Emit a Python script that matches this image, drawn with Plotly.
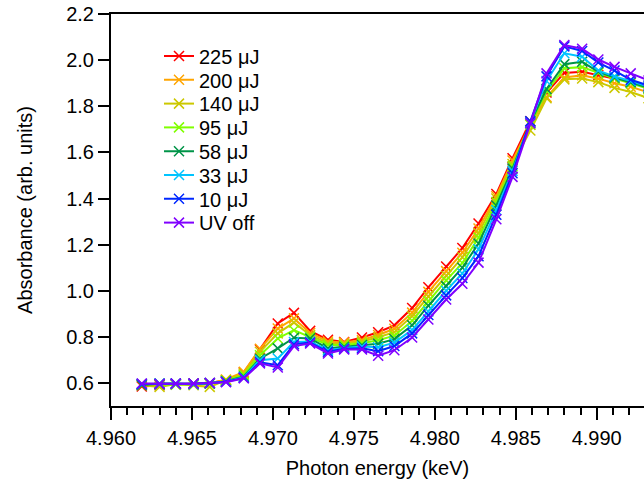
import plotly.graph_objects as go

energy = [4.9619, 4.9630, 4.9640, 4.9651, 4.9661, 4.9671, 4.9682, 4.9692, 4.9703, 4.9713,
          4.9723, 4.9734, 4.9744, 4.9755, 4.9765, 4.9775, 4.9786, 4.9796, 4.9807, 4.9817,
          4.9827, 4.9838, 4.9848, 4.9859, 4.9869, 4.9880, 4.9891, 4.9901, 4.9911, 4.9921, 4.9932]

uj225 = [0.585, 0.590, 0.593, 0.598, 0.600, 0.612, 0.645, 0.745, 0.858, 0.904, 0.826, 0.787, 0.778, 0.797, 0.820, 0.850,
         0.925, 1.015, 1.105, 1.185, 1.292, 1.420, 1.575, 1.735, 1.860, 1.945, 1.950, 1.935, 1.920, 1.905, 1.885]
uj200 = [0.590, 0.595, 0.595, 0.596, 0.598, 0.615, 0.648, 0.748, 0.836, 0.880, 0.817, 0.780, 0.775, 0.786, 0.808, 0.835,
         0.905, 0.995, 1.085, 1.165, 1.270, 1.410, 1.565, 1.720, 1.840, 1.925, 1.935, 1.920, 1.900, 1.885, 1.860]
uj140 = [0.590, 0.583, 0.595, 0.590, 0.583, 0.612, 0.640, 0.735, 0.815, 0.862, 0.807, 0.772, 0.770, 0.780, 0.798, 0.820,
         0.890, 0.975, 1.065, 1.145, 1.250, 1.400, 1.550, 1.695, 1.835, 1.917, 1.921, 1.905, 1.880, 1.862, 1.835]
uj95 = [0.595, 0.593, 0.592, 0.595, 0.597, 0.610, 0.635, 0.720, 0.793, 0.829, 0.800, 0.765, 0.765, 0.772, 0.785, 0.805,
        0.870, 0.955, 1.045, 1.120, 1.230, 1.385, 1.540, 1.720, 1.865, 1.965, 1.970, 1.945, 1.920, 1.900, 1.875]
uj58 = [0.590, 0.598, 0.598, 0.594, 0.598, 0.607, 0.628, 0.705, 0.750, 0.796, 0.793, 0.750, 0.757, 0.765, 0.770, 0.790,
        0.850, 0.935, 1.020, 1.100, 1.205, 1.370, 1.530, 1.730, 1.875, 1.983, 1.993, 1.950, 1.925, 1.905, 1.880]
uj33 = [0.595, 0.597, 0.596, 0.594, 0.600, 0.605, 0.625, 0.699, 0.706, 0.778, 0.780, 0.742, 0.752, 0.758, 0.755, 0.775,
        0.830, 0.910, 1.000, 1.075, 1.180, 1.350, 1.520, 1.730, 1.910, 2.030, 2.015, 1.955, 1.930, 1.910, 1.885]
uj10 = [0.595, 0.595, 0.597, 0.598, 0.600, 0.605, 0.622, 0.690, 0.677, 0.768, 0.775, 0.735, 0.748, 0.750, 0.738, 0.760,
        0.815, 0.895, 0.980, 1.055, 1.150, 1.330, 1.510, 1.735, 1.930, 2.060, 2.040, 1.990, 1.955, 1.915, 1.890]
uv_off = [0.598, 0.596, 0.597, 0.597, 0.600, 0.603, 0.620, 0.685, 0.667, 0.760, 0.771, 0.728, 0.745, 0.745, 0.718, 0.742,
          0.797, 0.875, 0.962, 1.030, 1.122, 1.310, 1.494, 1.726, 1.943, 2.066, 2.050, 2.003, 1.971, 1.943, 1.912]

labels = ["225 μJ", "200 μJ", "140 μJ", "95 μJ", "58 μJ", "33 μJ", "10 μJ", "UV off"]
series = [uj225, uj200, uj140, uj95, uj58, uj33, uj10, uv_off]
colors = ["#FF0000", "#FFA500", "#CCC800", "#80FF00", "#009448", "#00C4FF", "#0028FF", "#8000FF"]

y_ticks = [0.6, 0.8, 1.0, 1.2, 1.4, 1.6, 1.8, 2.0, 2.2]
x_ticks = [4.960, 4.965, 4.970, 4.975, 4.980, 4.985, 4.990]

font_family = "Liberation Sans, Arial, sans-serif"

W, H = 644, 487
ML, MT, MR = 111, 14, 0
MB = H - 406
plot_w = W - ML - MR
plot_h = H - MT - MB

fig = go.Figure()
legend_layouts = {}
for i, (lab, ys, col) in enumerate(zip(labels, series, colors)):
    key = "legend" if i == 0 else f"legend{i + 1}"
    fig.add_trace(go.Scatter(
        x=energy, y=ys, name=lab, mode="lines+markers",
        line=dict(color=col, width=2),
        marker=dict(symbol="x-thin", size=10, line=dict(color=col, width=1.5), color=col),
        legend=key,
    ))
    center_px = 56 + 23.8 * i
    legend_layouts[key] = dict(
        x=(159 - ML) / plot_w, y=1 - (center_px - MT) / plot_h,
        xanchor="left", yanchor="middle",
        bgcolor="rgba(0,0,0,0)", borderwidth=0,
        font=dict(size=20, family=font_family, color="black"),
    )

fig.update_layout(
    width=W, height=H,
    margin=dict(l=ML, r=MR, t=MT, b=MB),
    plot_bgcolor="white", paper_bgcolor="white",
    font=dict(family=font_family, size=20, color="black"),
    showlegend=True,
    xaxis=dict(
        range=[4.960, 4.99292], showgrid=False, zeroline=False, automargin=False,
        showline=True, linecolor="black", linewidth=2, mirror=True,
        ticks="outside", ticklen=12, tickwidth=2, tickcolor="black",
        tickvals=x_ticks, ticktext=[f"{v:.3f}" for v in x_ticks],
        tickfont=dict(size=20), ticklabelstandoff=1, ticklabeloverflow="allow",
        minor=dict(dtick=0.001, tick0=4.960, ticks="outside", ticklen=7, tickwidth=2, tickcolor="black"),
        title=dict(text="Photon energy (keV)", font=dict(size=20), standoff=13),
    ),
    yaxis=dict(
        range=[0.5, 2.2005], showgrid=False, zeroline=False, automargin=False,
        showline=True, linecolor="black", linewidth=2, mirror=False,
        ticks="outside", ticklen=11, tickwidth=2, tickcolor="black",
        tickvals=y_ticks, ticktext=[f"{v:.1f}" for v in y_ticks],
        tickfont=dict(size=20), ticklabeloverflow="allow",
        title=dict(text="Absorbance (arb. units)", font=dict(size=20), standoff=28),
    ),
)
fig.update_layout(**legend_layouts)

fig.write_html("out.html", config={"displayModeBar": False},
               post_script="document.body.style.margin='0';")
